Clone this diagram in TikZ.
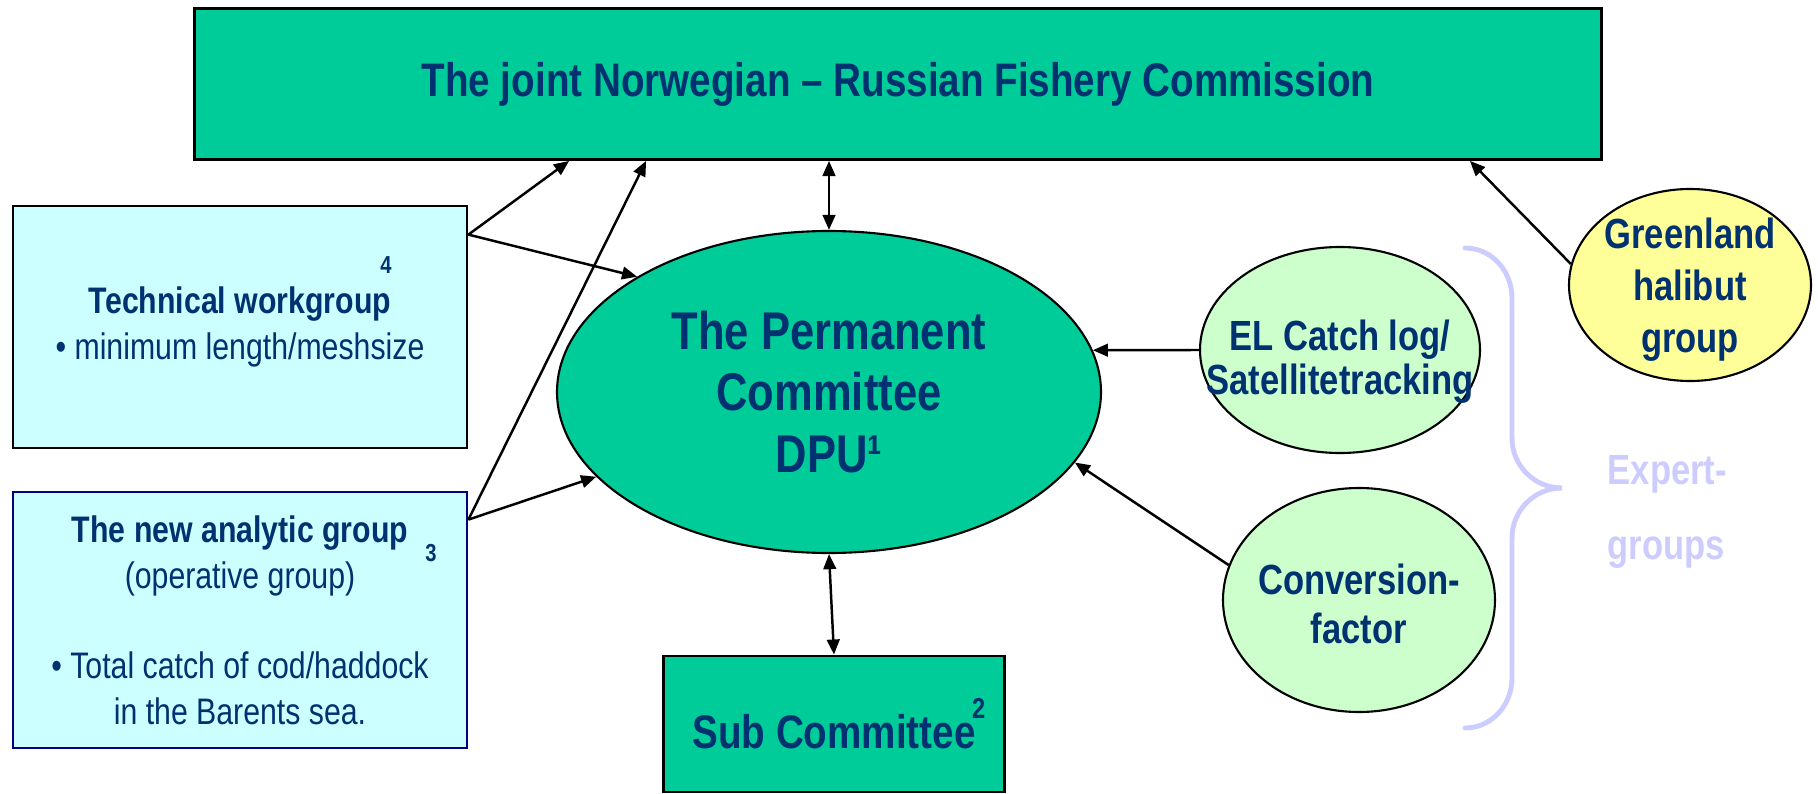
\documentclass[tikz,border=0pt]{standalone}
\usepackage{fontspec}
\setmainfont{Liberation Sans}[FakeStretch=0.82]
\usepackage{tikz}
\usetikzlibrary{arrows.meta}
\usetikzlibrary{shapes}
\definecolor{dpugreen}{HTML}{00CC99}
\definecolor{dputext}{HTML}{003170}
\definecolor{wgcyan}{HTML}{CCFFFF}
\definecolor{expgreen}{HTML}{CCFFCC}
\definecolor{halyellow}{HTML}{FFFF99}
\definecolor{explav}{HTML}{CCCCFF}
\definecolor{wgnavy}{HTML}{000080}

\begin{document}
\begin{tikzpicture}[
    box/.style={draw, line width=0.8pt, inner sep=0pt, text=dputext, align=center},
    blob/.style={draw, ellipse, line width=0.6pt, inner sep=0pt},
    inblob/.style={text=dputext, align=center, font=\fontsize{12pt}{14pt}\selectfont\bfseries},
    wgtext/.style={font=\fontsize{10.5pt}{13pt}\selectfont},
    fnmark/.style={text=dputext, font=\fontsize{7pt}{7pt}\selectfont\bfseries, inner sep=0pt},
    onearrow/.style={line width=0.7pt, -{Triangle[length=4.3pt,width=3.6pt]}},
    twoway/.style={line width=0.7pt, {Triangle[length=4.3pt,width=3.6pt]}-{Triangle[length=4.3pt,width=3.6pt]}}
  ]
            \useasboundingbox (0,0) rectangle (18.18,7.93);
            \draw (8.98,7.09) node[box, fill=dpugreen, minimum width=14.07cm, minimum height=1.51cm,
                font=\fontsize{13.4pt}{16pt}\selectfont\bfseries]                  (joint) {The joint Norwegian – Russian Fishery Commission};
            \draw (2.40,4.66) node[box, fill=wgcyan, minimum width=4.54cm, minimum height=2.42cm, wgtext]
                                                                                  (tech) {\textbf{Technical workgroup}\\• minimum length/meshsize};
            \draw (2.40,1.73) node[box, draw=wgnavy, fill=wgcyan, minimum width=4.54cm, minimum height=2.56cm, wgtext]
                                                                                  (analytic) {\textbf{The new analytic group}\\(operative group)\\[12.7pt]• Total catch of cod/haddock\\in the Barents sea.};
            \draw (3.86,5.28) node[fnmark]                                        (four) {4};
            \draw (4.31,2.40) node[fnmark]                                        (three) {3};
            \draw (8.29,4.01) node[blob, fill=dpugreen, minimum width=5.44cm, minimum height=3.22cm, text=dputext, align=center,
                font=\fontsize{15.1pt}{17.6pt}\selectfont\bfseries]               (perm) {The Permanent\\Committee\\DPU¹};
            \draw (8.34,0.69) node[box, fill=dpugreen, minimum width=3.41cm, minimum height=1.36cm,
                font=\fontsize{13.4pt}{16pt}\selectfont\bfseries]                  (sub) {Sub Committee\rlap{\kern-1pt\raisebox{8.5pt}{\fontsize{8.2pt}{8.2pt}\selectfont 2}}};
            \draw (13.40,4.43) node[blob, fill=expgreen, minimum width=2.80cm, minimum height=2.06cm,
                label={[inblob, font=\fontsize{12pt}{12.5pt}\selectfont\bfseries, yshift=-0.12cm]center:EL Catch log/\\Satellitetracking}] (elog) {};
            \draw (13.59,1.93) node[blob, fill=expgreen, minimum width=2.72cm, minimum height=2.24cm,
                label={[inblob, yshift=-0.04cm]center:Conversion-\\factor}]        (conv) {};
            \draw (16.90,5.08) node[blob, fill=halyellow, minimum width=2.42cm, minimum height=1.92cm,
                label={[inblob, font=\fontsize{12pt}{14.8pt}\selectfont\bfseries, yshift=-0.05cm]center:Greenland\\halibut\\group}] (halibut) {};
            \draw (16.07,3.38) node[anchor=north west, inner sep=0pt, text=explav, align=left,
                font=\fontsize{12pt}{21.3pt}\selectfont\bfseries]                  (expert) {Expert-\\groups};
            \draw[explav, line width=1.4pt, line cap=round] (14.65,5.45) to[out=0,in=90] (15.12,4.95) -- (15.12,3.55)
                to[out=-90,in=180] (15.62,3.05) to[out=180,in=90] (15.12,2.55) -- (15.12,1.15) to[out=-90,in=0] (14.65,0.65);
            \draw[onearrow] ([yshift=-0.30cm]tech.north east) -- ([xshift=3.76cm]joint.south west);
            \draw[onearrow] ([yshift=-0.30cm]tech.north east) -- (perm.149);
            \draw[onearrow] ([yshift=-0.29cm]analytic.north east) -- ([xshift=4.53cm]joint.south west);
            \draw[onearrow] ([yshift=-0.29cm]analytic.north east) -- (perm.200);
            \draw[twoway] (perm.north) -- (perm.north |- joint.south);
            \draw[twoway] (perm.south) -- (sub.north);
            \draw[onearrow] (elog.west) -- (perm.9);
            \draw[onearrow] (conv.165) -- (perm.-16);
            \draw[onearrow] (halibut.170) -- ([xshift=-1.33cm]joint.south east);
  
            \end{tikzpicture}
\end{document}
